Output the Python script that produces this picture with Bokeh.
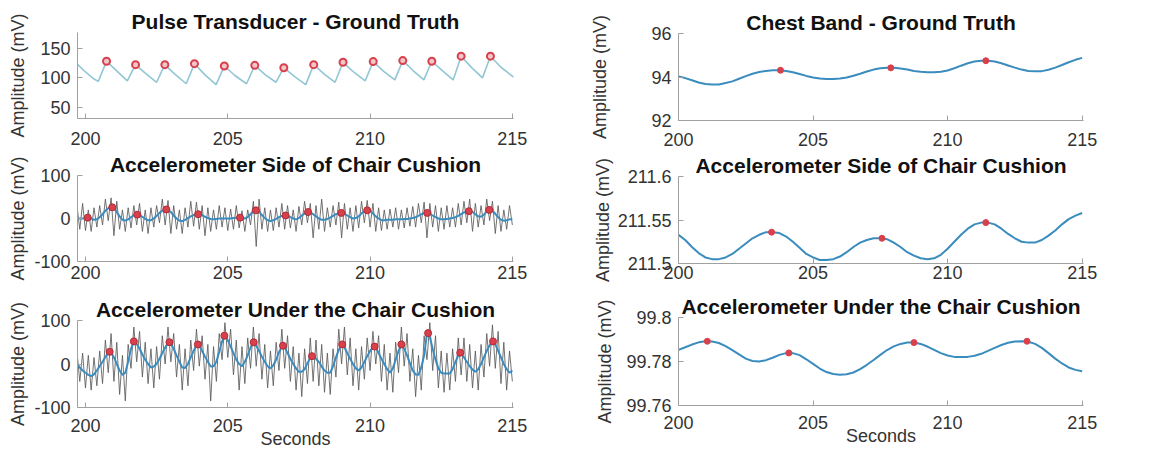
import numpy as np
from bokeh.plotting import figure
from bokeh.layouts import row, column
from bokeh.models import Range1d, FixedTicker, CustomJSTickFormatter
from bokeh.embed import file_html
from bokeh.resources import INLINE

# ---------------- data ----------------
x_ticks = [200, 205, 210, 215]

# Pulse transducer (sawtooth knots: trough / peak / mid-decay)
pulse_t = [199.70, 200.00, 200.30, 200.45, 200.74, 201.05, 201.47, 201.76, 202.10, 202.50,
           202.79, 203.15, 203.54, 203.83, 204.20, 204.59, 204.88, 205.25, 205.66, 205.95,
           206.30, 206.69, 206.97, 207.35, 207.74, 208.02, 208.40, 208.77, 209.05, 209.42,
           209.83, 210.11, 210.48, 210.87, 211.15, 211.52, 211.89, 212.17, 212.55, 212.92,
           213.20, 213.58, 213.95, 214.23, 214.60, 215.05]
pulse_v = [124, 110, 98, 94, 128.2, 114, 95, 122.4, 108, 92.5,
           122.4, 106, 90, 124.1, 105, 88.5, 120.1, 104, 90, 121.3,
           106, 92.5, 117.2, 102, 88.5, 122.4, 106, 92.5, 126.4, 110,
           95, 127.6, 111, 96.5, 129.3, 112, 96.5, 128.2, 112, 96.5,
           136.8, 117, 100, 136.8, 118, 101]
pulse_peak_t = [200.74, 201.76, 202.79, 203.83, 204.88, 205.95, 206.97, 208.02, 209.05,
                210.11, 211.15, 212.17, 213.20, 214.23]
pulse_peak_v = [128.2, 122.4, 122.4, 124.1, 120.1, 121.3, 117.2, 122.4, 126.4,
                127.6, 129.3, 128.2, 136.8, 136.8]

# left accelerometer panels sampled every 0.1 s from 199.7 to 215.0
t_left = np.round(np.arange(1997, 2151) / 10.0, 1)

side_smooth = [0, 0, 0, 1, 2, 0, -3, -2, 3, 10,
               18, 24, 26, 24, 15, 5, -3, -5, -2, 3,
               7, 9, 8, 4, -1, -4, -4, 0, 6, 13,
               18, 21, 20, 15, 7, 0, -5, -6, -3, 1,
               5, 8, 10, 10, 8, 4, 1, -1, -2, -1,
               0, 0, 0, 0, 0, 1, 2, 2, 1, 0,
               3, 10, 17, 19, 16, 8, 1, -4, -6, -4,
               -1, 3, 6, 7, 6, 3, 0, -2, 1, 7,
               12, 15, 14, 10, 5, 0, -3, -3, -1, 2,
               6, 10, 12, 13, 11, 7, 3, 0, 1, 5,
               12, 17, 19, 18, 12, 5, 0, -4, -4, -3,
               -3, -3, -2, -2, -2, -1, -1, 0, 1, 3,
               6, 10, 12, 13, 11, 7, 3, 0, -2, -2,
               -1, 0, 1, 3, 6, 10, 14, 16, 17, 15,
               10, 5, 4, 9, 16, 20, 18, 11, 3, -3,
               -5, -4, -2, -2]
side_raw = [30, -25, 35, -28, 20, -30, 25, -20, 30, -15,
            45, -5, 48, -40, 40, -25, 20, -30, 25, -22,
            30, -15, 35, -30, 20, -35, 25, -20, 30, -10,
            45, -15, 42, -35, 30, -25, 20, -35, 25, -20,
            40, -18, 38, -25, 30, -40, 25, -30, 20, -25,
            30, -20, 25, -28, 22, -25, 30, -22, 18, -30,
            20, -15, 40, -65, 45, -25, 25, -30, 20, -28,
            25, -20, 35, -25, 30, -22, 20, -30, 28, -15,
            40, -10, 35, -45, 30, -25, 45, -30, 25, -20,
            30, -15, 38, -45, 35, -25, 25, -30, 30, -22,
            40, -10, 42, -20, 35, -30, 25, -28, 20, -25,
            22, -20, 25, -25, 20, -22, 25, -18, 28, -20,
            35, -10, 38, -45, 35, -20, 30, -30, 25, -25,
            30, -20, 25, -20, 35, -15, 40, -10, 45, -30,
            35, -20, 30, -15, 45, -5, 40, -35, 30, -30,
            20, -25, 30, -15]
side_peak_t = [200.08, 200.94, 201.82, 202.84, 203.96, 205.43, 205.99, 207.03, 207.82,
               208.99, 209.90, 212.01, 213.47, 214.19]
side_peak_v = [2, 26, 9, 21, 10, 2, 19, 7, 15, 13, 19, 13, 17, 20]

under_smooth = [0, -8, -15, -20, -25, -28, -24, -15, -5, 5,
                16, 26, 27, 15, 0, -15, -25, -20, 5, 35,
                52, 46, 35, 22, 10, 0, -8, -6, 0, 12,
                25, 38, 48, 46, 35, 20, 5, -8, -9, 0,
                15, 30, 43, 42, 30, 17, 5, -6, -5, 5,
                28, 52, 65, 55, 40, 25, 10, 0, -5, 5,
                20, 38, 50, 42, 30, 17, 5, -5, -10, -3,
                10, 27, 40, 38, 25, 12, 0, -10, -18, -18,
                -12, 2, 14, 18, 12, 5, -6, -15, -20, -20,
                -5, 15, 32, 45, 38, 25, 12, 0, -10, -15,
                -8, 5, 18, 30, 38, 39, 25, 12, 0, -12,
                -20, -10, 10, 30, 45, 35, 20, 2, -15, -24,
                -25, -8, 20, 70, 62, 35, 10, -10, -20, -22,
                -22, -22, -12, 5, 20, 25, 15, 5, -5, -13,
                -18, -12, 0, 15, 30, 43, 52, 45, 30, 15,
                0, -12, -20, -15]
under_raw = [30, -40, 25, -55, 20, -60, 15, -50, 30, -45,
             55, -20, 70, -40, 50, -70, 20, -85, 45, -10,
             85, 5, 75, -30, 50, -45, 35, -55, 40, -35,
             65, 0, 85, 5, 70, -30, 45, -60, 35, -50,
             55, -15, 80, -5, 65, -35, 45, -85, 40, -40,
             70, 10, 95, 15, 80, -25, 55, -60, 40, -45,
             60, -10, 85, -5, 70, -35, 45, -55, 30, -50,
             50, -15, 80, -10, 65, -40, 40, -60, 25, -75,
             35, -45, 60, -40, 55, -50, 45, -65, 25, -70,
             35, -30, 80, 0, 85, -25, 60, -50, 35, -60,
             40, -35, 60, -15, 75, 0, 65, -40, 45, -60,
             25, -65, 50, -20, 85, -5, 70, -40, 35, -75,
             20, -60, 65, 10, 95, -15, 65, -55, 30, -65,
             25, -60, 35, -40, 60, -25, 60, -40, 45, -55,
             30, -60, 45, -30, 70, -5, 90, -10, 75, -45,
             50, -60, 30, -40]
under_peak_t = [200.85, 201.70, 202.95, 203.95, 204.88, 205.91, 206.94, 207.96, 209.02,
                210.16, 211.10, 212.04, 213.17, 214.32]
under_peak_v = [28, 52, 50, 45, 65, 50, 42, 18, 45, 40, 45, 71, 26, 52]

# right panels sampled every 0.25 s from 200 to 215
t_right = np.arange(800, 861) / 4.0

chest = [94.03, 93.95, 93.85, 93.75, 93.68, 93.65, 93.66, 93.72, 93.80, 93.92,
         94.04, 94.15, 94.23, 94.28, 94.31, 94.31, 94.28, 94.22, 94.14, 94.05,
         93.98, 93.93, 93.91, 93.91, 93.93, 93.98, 94.06, 94.15, 94.25, 94.34,
         94.40, 94.42, 94.42, 94.39, 94.34, 94.28, 94.24, 94.22, 94.22, 94.24,
         94.30, 94.40, 94.52, 94.63, 94.71, 94.75, 94.75, 94.71, 94.63, 94.53,
         94.43, 94.34, 94.28, 94.26, 94.27, 94.33, 94.43, 94.55, 94.68, 94.79,
         94.88]
chest_peak_t = [203.79, 207.89, 211.42]
chest_peak_v = [94.31, 94.42, 94.75]

side_resp = [211.533, 211.527, 211.519, 211.512, 211.507, 211.505, 211.505, 211.507, 211.511, 211.517,
             211.523, 211.529, 211.533, 211.536, 211.536, 211.535, 211.531, 211.525, 211.518, 211.511,
             211.507, 211.504, 211.504, 211.505, 211.508, 211.513, 211.519, 211.524, 211.527, 211.529,
             211.529, 211.528, 211.524, 211.519, 211.513, 211.509, 211.506, 211.505, 211.506, 211.510,
             211.517, 211.525, 211.533, 211.540, 211.545, 211.547, 211.547, 211.545, 211.540, 211.534,
             211.529, 211.525, 211.524, 211.524, 211.527, 211.532, 211.538, 211.545, 211.551, 211.555,
             211.558]
side_resp_peak_t = [203.46, 207.56, 211.42]
side_resp_peak_v = [211.536, 211.529, 211.547]

under_resp = [99.7853, 99.7865, 99.7877, 99.7887, 99.7892, 99.7891, 99.7884, 99.7870, 99.7852, 99.7832,
              99.7813, 99.7802, 99.7800, 99.7806, 99.7817, 99.7830, 99.7838, 99.7838, 99.7829, 99.7810,
              99.7789, 99.7768, 99.7752, 99.7743, 99.7740, 99.7742, 99.7750, 99.7765, 99.7785, 99.7807,
              99.7830, 99.7852, 99.7869, 99.7880, 99.7886, 99.7886, 99.7880, 99.7868, 99.7853, 99.7838,
              99.7827, 99.7821, 99.7820, 99.7821, 99.7826, 99.7835, 99.7848, 99.7862, 99.7875, 99.7885,
              99.7891, 99.7892, 99.7890, 99.7880, 99.7862, 99.7838, 99.7813, 99.7791, 99.7773, 99.7762,
              99.7756]
under_resp_peak_t = [201.07, 204.10, 208.75, 212.95]
under_resp_peak_v = [99.7892, 99.7839, 99.7886, 99.7892]

for arr in (side_smooth, side_raw, under_smooth, under_raw):
    assert len(arr) == len(t_left), len(arr)
for arr in (chest, side_resp, under_resp):
    assert len(arr) == len(t_right), len(arr)

# ---------------- styling ----------------
FONT = "Liberation Sans"
BLUE = "#3a8cbf"
LIGHT = "#92c6d4"
GRAY = "#5a5a5a"
RED = "#d8404c"
AXIS = "#a0a0a0"

fmt = CustomJSTickFormatter(code="return String(Math.round(tick*10000)/10000);")


def make_fig(w, h, bl, br, bt, bb, xr, yr, yticks, title, ylab_standoff, xtick_standoff,
             xlabel=None):
    p = figure(width=w, height=h, output_backend="svg", toolbar_location=None,
               x_range=Range1d(*xr), y_range=Range1d(*yr),
               min_border_left=bl, min_border_right=br,
               min_border_top=bt, min_border_bottom=bb)
    p.title.text = title
    p.title.align = "center"
    p.title.text_font = FONT
    p.title.text_font_size = "21px"
    p.title.text_font_style = "bold"
    p.title.text_color = "#111111"
    p.title.standoff = 0
    p.outline_line_color = None
    p.grid.visible = False
    p.background_fill_color = "white"
    p.border_fill_color = "white"
    for ax in (p.xaxis[0], p.yaxis[0]):
        ax.major_tick_in = 5
        ax.major_tick_out = 0
        ax.minor_tick_line_color = None
        ax.axis_line_color = AXIS
        ax.major_tick_line_color = AXIS
        ax.major_label_text_font = FONT
        ax.major_label_text_font_size = "18px"
        ax.major_label_text_color = "#333333"
        ax.axis_label_text_font = FONT
        ax.axis_label_text_font_size = "18px"
        ax.axis_label_text_font_style = "normal"
        ax.axis_label_text_color = "#333333"
        ax.formatter = fmt
    p.xaxis.ticker = FixedTicker(ticks=x_ticks)
    p.yaxis.ticker = FixedTicker(ticks=yticks)
    p.xaxis.major_label_standoff = xtick_standoff
    p.yaxis.major_label_standoff = 7
    p.yaxis.axis_label = "Amplitude (mV)"
    p.yaxis.axis_label_standoff = ylab_standoff
    if xlabel:
        p.xaxis.axis_label = xlabel
        p.xaxis.axis_label_standoff = -6
    return p


LW, RW = 560, 593
lxr = (199.72, 215.04)
rxr = (200.0, 215.05)

L1 = make_fig(LW, 150, 77, 47, 32, 32, lxr, (31, 177), [50, 100, 150],
              "Pulse Transducer - Ground Truth", 9, 13)
L1.line(pulse_t, pulse_v, line_color=LIGHT, line_width=1.6)
L1.scatter(pulse_peak_t, pulse_peak_v, marker="circle", size=7, fill_color="#f4c6c9",
           line_color=RED, line_width=2)

L2 = make_fig(LW, 140, 77, 47, 25, 29, lxr, (-100, 100), [-100, 0, 100],
              "Accelerometer Side of Chair Cushion", 3, 4)
L2.line(t_left, side_raw, line_color=GRAY, line_width=1, line_alpha=0.85)
L2.line(t_left, side_smooth, line_color=BLUE, line_width=2)
L2.scatter(side_peak_t, side_peak_v, marker="circle", size=7, fill_color=RED,
           line_color="#b02a35", line_width=1)

L3 = make_fig(LW, 163, 77, 47, 30, 46, lxr, (-100, 100), [-100, 0, 100],
              "Accelerometer Under the Chair Cushion", 3, 11, xlabel="Seconds")
L3.line(t_left, under_raw, line_color=GRAY, line_width=1, line_alpha=0.85)
L3.line(t_left, under_smooth, line_color=BLUE, line_width=2)
L3.scatter(under_peak_t, under_peak_v, marker="circle", size=7, fill_color=RED,
           line_color="#b02a35", line_width=1)

R1 = make_fig(RW, 150, 118, 70, 33, 30, rxr, (92, 96), [92, 94, 96],
              "Chest Band - Ground Truth", 38, 12)
R1.line(t_right, chest, line_color=BLUE, line_width=2)
R1.scatter(chest_peak_t, chest_peak_v, marker="circle", size=6, fill_color=RED, line_color=RED)

R2 = make_fig(RW, 140, 118, 70, 26, 27, rxr, (211.5, 211.6), [211.5, 211.55, 211.6],
              "Accelerometer Side of Chair Cushion", 2, 2)
R2.line(t_right, side_resp, line_color=BLUE, line_width=2)
R2.scatter(side_resp_peak_t, side_resp_peak_v, marker="circle", size=6, fill_color=RED, line_color=RED)

R3 = make_fig(RW, 163, 118, 70, 27, 48, rxr, (99.76, 99.8), [99.76, 99.78, 99.8],
              "Accelerometer Under the Chair Cushion", 8, 10, xlabel="Seconds")
R3.line(t_right, under_resp, line_color=BLUE, line_width=2)
R3.scatter(under_resp_peak_t, under_resp_peak_v, marker="circle", size=6, fill_color=RED, line_color=RED)

layout = row(column(L1, L2, L3), column(R1, R2, R3))
open("out.html", "w").write(file_html(layout, INLINE))
